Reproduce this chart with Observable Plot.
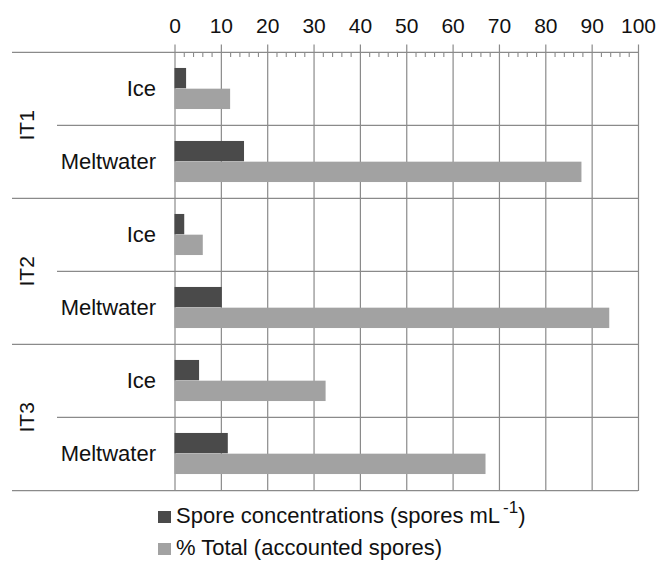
<!DOCTYPE html>
<html>
<head>
<meta charset="utf-8">
<script src="https://cdn.jsdelivr.net/npm/d3@7"></script>
<script src="https://cdn.jsdelivr.net/npm/@observablehq/plot@0.6"></script>
<style>
  html, body { margin: 0; padding: 0; background: #fff; }
  #chart { width: 659px; font-family: "Liberation Sans", Arial, sans-serif; }
  #chart svg { display: block; }
  .legend { font-family: "Liberation Sans", Arial, sans-serif; font-size: 22px; color: #111; }
  .legend .row { height: 32px; line-height: 32px; padding-left: 158px; white-space: nowrap; }
  .legend .sw { display: inline-block; width: 13px; height: 12px; margin-right: 5px; vertical-align: baseline; }
  .legend sup { font-size: 17px; line-height: 0; vertical-align: 10px; margin-left: 3px; }
</style>
</head>
<body>
<div id="chart"></div>
<script>
// ---- data ----
const groups = ["IT1", "IT2", "IT3"];
const categories = ["Ice", "Meltwater"];
// values in the order IT1 Ice, IT1 Meltwater, IT2 Ice, IT2 Meltwater, IT3 Ice, IT3 Meltwater
const sporeConcentration = [2.5, 15.0, 2.1, 10.2, 5.3, 11.5];
const percentTotal = [12.0, 87.8, 6.1, 93.8, 32.6, 67.1];
const xTicks = [0, 10, 20, 30, 40, 50, 60, 70, 80, 90, 100];
const minorTicks = d3.range(0, 101, 2).filter(v => v % 10 !== 0);
const seriesLabels = ["Spore concentrations (spores mL", "% Total (accounted spores)"];
const seriesColors = ["#4a4a4a", "#a2a2a2"];

// ---- table ----
const rows = groups.flatMap((g, gi) => categories.map((c, ci) => ({
  key: g + "|" + c, group: g, category: c,
  conc: sporeConcentration[gi * categories.length + ci],
  pct: percentTotal[gi * categories.length + ci]
})));
const keys = rows.map(d => d.key);

// ---- layout ----
const W = 659, H = 500;
const mTop = 51, mBottom = 9, mLeft = 174.5, mRight = 21;
const frameH = H - mTop - mBottom;
const bandH = frameH / rows.length;
const barH = 20.7;
const outer = (bandH - 2 * barH) / 2;
const gridColor = "#8a8a8a";
const font = "Liberation Sans, Arial, sans-serif";

const chart = Plot.plot({
  width: W, height: H,
  marginTop: mTop, marginBottom: mBottom, marginLeft: mLeft, marginRight: mRight,
  style: { fontFamily: font, color: "#111", background: "#fff" },
  x: { domain: [0, 100], axis: null },
  y: { domain: keys, padding: 0, axis: null },
  marks: [
    // vertical gridlines (extend slightly above top axis line)
    Plot.ruleX(xTicks, { stroke: gridColor, strokeWidth: 1.2, insetTop: -6.5 }),
    // minor ticks just below the top axis line
    Plot.ruleX(minorTicks, { stroke: gridColor, strokeWidth: 1.1, insetTop: 1.5, insetBottom: frameH - 6 }),
    // horizontal separators: full ones at group boundaries
    Plot.ruleY(rows.filter(d => d.category === categories[0]), { y: "key", dy: -bandH / 2, stroke: gridColor, strokeWidth: 1.2, insetLeft: -(mLeft - 12) }),
    Plot.ruleY(rows.slice(-1), { y: "key", dy: bandH / 2, stroke: gridColor, strokeWidth: 1.2, insetLeft: -(mLeft - 12) }),
    // partial separators between Ice and Meltwater
    Plot.ruleY(rows.filter(d => d.category === categories[1]), { y: "key", dy: -bandH / 2, stroke: gridColor, strokeWidth: 1.2, insetLeft: -(mLeft - 57) }),
    // bars
    Plot.barX(rows, { y: "key", x1: 0, x2: "conc", fill: seriesColors[0], insetTop: outer, insetBottom: bandH - outer - barH }),
    Plot.barX(rows, { y: "key", x1: 0, x2: "pct", fill: seriesColors[1], insetTop: outer + barH, insetBottom: outer }),
    // top tick labels
    Plot.axisX({ anchor: "top", ticks: xTicks, tickSize: 0, tickPadding: 19, fontSize: 21, fill: "#111", label: null }),
    // category labels
    Plot.axisY({ anchor: "left", tickSize: 0, tickPadding: 19, fontSize: 22, fill: "#111", label: null, tickFormat: k => k.split("|")[1] }),
    // group labels
    Plot.text(rows.filter(d => d.category === categories[1]), {
      y: "key", text: "group", dy: -bandH / 2, frameAnchor: "left", dx: -(mLeft - 26.5),
      rotate: -90, fontSize: 21, fill: "#111", textAnchor: "middle", lineAnchor: "middle"
    })
  ]
});

const root = document.getElementById("chart");
root.appendChild(chart);

const legend = document.createElement("div");
legend.className = "legend";
legend.innerHTML =
  `<div class="row"><span class="sw" style="background:${seriesColors[0]}"></span>${seriesLabels[0]}<sup>-1</sup>)</div>` +
  `<div class="row"><span class="sw" style="background:${seriesColors[1]}"></span>${seriesLabels[1]}</div>`;
root.appendChild(legend);
</script>
</body>
</html>
